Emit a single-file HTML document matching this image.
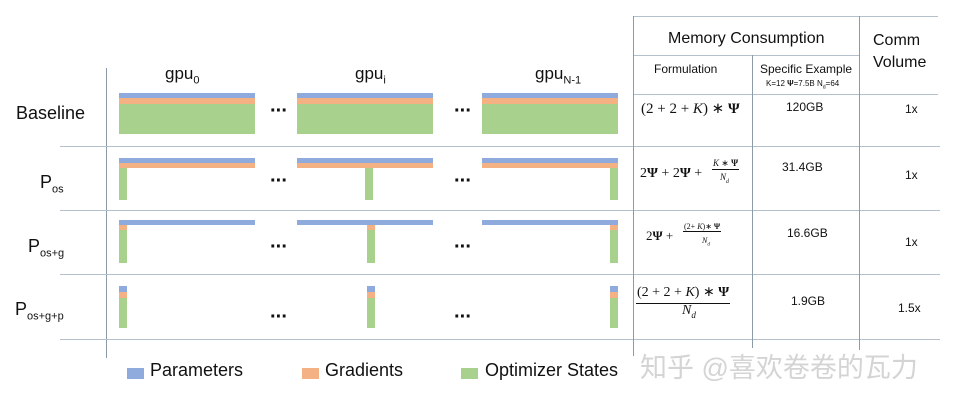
<!DOCTYPE html>
<html><head><meta charset="utf-8"><style>
body{margin:0;width:959px;height:402px;background:#fff;position:relative;overflow:hidden;font-family:"Liberation Sans","Noto Sans CJK SC",sans-serif;color:#111}
div{position:absolute}
.h{height:1px;background:#b4c0cc}
.v{width:1px;background:#8d9aa8}
.b{background:#8faadc}.o{background:#f4b183}.g{background:#a9d18e}
.t{white-space:nowrap}
.m{font-family:"Liberation Serif",serif;white-space:nowrap}
.dots{font-size:20px;font-weight:bold;letter-spacing:-1px}
sub{font-size:65%}
</style></head><body>
<div class="v" style="left:106px;top:68px;height:290px"></div>
<div class="h" style="left:60px;top:146px;width:880px"></div>
<div class="h" style="left:60px;top:210px;width:880px"></div>
<div class="h" style="left:60px;top:274px;width:880px"></div>
<div class="h" style="left:60px;top:339px;width:880px"></div>
<div class="h" style="left:633px;top:16px;width:305px"></div>
<div class="h" style="left:633px;top:55px;width:226px"></div>
<div class="h" style="left:633px;top:94px;width:305px"></div>
<div class="v" style="left:633px;top:16px;height:340px"></div>
<div class="v" style="left:752px;top:55px;height:293px"></div>
<div class="v" style="left:859px;top:16px;height:334px"></div>

<div class="t" style="left:165px;top:64px;font-size:17px">gpu<sub>0</sub></div>
<div class="t" style="left:355px;top:64px;font-size:17px">gpu<sub>i</sub></div>
<div class="t" style="left:535px;top:64px;font-size:17px">gpu<sub>N-1</sub></div>
<div class="t" style="left:16px;top:103px;font-size:18px">Baseline</div>
<div class="t" style="left:40px;top:172px;font-size:18px">P<sub style="font-size:11px">os</sub></div>
<div class="t" style="left:28px;top:236px;font-size:18px">P<sub style="font-size:11px">os+g</sub></div>
<div class="t" style="left:15px;top:299px;font-size:18px">P<sub style="font-size:11px">os+g+p</sub></div>

<div class="b" style="left:119px;top:93px;width:136px;height:5px"></div>
<div class="o" style="left:119px;top:98px;width:136px;height:6px"></div>
<div class="g" style="left:119px;top:104px;width:136px;height:30px"></div>
<div class="b" style="left:297px;top:93px;width:136px;height:5px"></div>
<div class="o" style="left:297px;top:98px;width:136px;height:6px"></div>
<div class="g" style="left:297px;top:104px;width:136px;height:30px"></div>
<div class="b" style="left:482px;top:93px;width:136px;height:5px"></div>
<div class="o" style="left:482px;top:98px;width:136px;height:6px"></div>
<div class="g" style="left:482px;top:104px;width:136px;height:30px"></div>
<div class="b" style="left:119px;top:158px;width:136px;height:5px"></div>
<div class="o" style="left:119px;top:163px;width:136px;height:5px"></div>
<div class="g" style="left:119px;top:168px;width:8px;height:32px"></div>
<div class="b" style="left:297px;top:158px;width:136px;height:5px"></div>
<div class="o" style="left:297px;top:163px;width:136px;height:5px"></div>
<div class="g" style="left:365px;top:168px;width:8px;height:32px"></div>
<div class="b" style="left:482px;top:158px;width:136px;height:5px"></div>
<div class="o" style="left:482px;top:163px;width:136px;height:5px"></div>
<div class="g" style="left:610px;top:168px;width:8px;height:32px"></div>
<div class="b" style="left:119px;top:220px;width:136px;height:5px"></div>
<div class="o" style="left:119px;top:225px;width:8px;height:5px"></div>
<div class="g" style="left:119px;top:230px;width:8px;height:33px"></div>
<div class="b" style="left:297px;top:220px;width:136px;height:5px"></div>
<div class="o" style="left:367px;top:225px;width:8px;height:5px"></div>
<div class="g" style="left:367px;top:230px;width:8px;height:33px"></div>
<div class="b" style="left:482px;top:220px;width:136px;height:5px"></div>
<div class="o" style="left:610px;top:225px;width:8px;height:5px"></div>
<div class="g" style="left:610px;top:230px;width:8px;height:33px"></div>
<div class="b" style="left:119px;top:286px;width:8px;height:6px"></div>
<div class="o" style="left:119px;top:292px;width:8px;height:6px"></div>
<div class="g" style="left:119px;top:298px;width:8px;height:30px"></div>
<div class="b" style="left:367px;top:286px;width:8px;height:6px"></div>
<div class="o" style="left:367px;top:292px;width:8px;height:6px"></div>
<div class="g" style="left:367px;top:298px;width:8px;height:30px"></div>
<div class="b" style="left:610px;top:286px;width:8px;height:6px"></div>
<div class="o" style="left:610px;top:292px;width:8px;height:6px"></div>
<div class="g" style="left:610px;top:298px;width:8px;height:30px"></div>

<div class="dots" style="left:270px;top:100px">···</div>
<div class="dots" style="left:454px;top:100px">···</div>
<div class="dots" style="left:270px;top:170px">···</div>
<div class="dots" style="left:454px;top:170px">···</div>
<div class="dots" style="left:270px;top:236px">···</div>
<div class="dots" style="left:454px;top:236px">···</div>
<div class="dots" style="left:270px;top:306px">···</div>
<div class="dots" style="left:454px;top:306px">···</div>

<div class="t" style="left:668px;top:30px;font-size:16px">Memory Consumption</div>
<div class="t" style="left:873px;top:30px;font-size:16px;line-height:22px">Comm<br>Volume</div>
<div class="t" style="left:654px;top:62px;font-size:12px">Formulation</div>
<div class="t" style="left:760px;top:62px;font-size:12px">Specific Example</div>
<div class="t" style="left:766px;top:79px;font-size:8px">K=12 <b>Ψ</b>=7.5B N<sub>d</sub>=64</div>
<div class="m" style="left:641px;top:99px;font-size:15px">(2 + 2 + <i>K</i>) ∗ <b>Ψ</b></div>
<div class="t" style="left:786px;top:100px;font-size:12px">120GB</div>
<div class="t" style="left:905px;top:102px;font-size:12px">1x</div>
<div class="m" style="left:640px;top:166px;font-size:14px">2<b>Ψ</b> + 2<b>Ψ</b> +</div>
<div class="m" style="left:712px;top:158px;font-size:9px;border-bottom:1px solid #111;padding:0 1px"><i>K</i> ∗ <b>Ψ</b></div>
<div class="m" style="left:720px;top:172px;font-size:9px"><i>N<sub>d</sub></i></div>
<div class="t" style="left:782px;top:160px;font-size:12px">31.4GB</div>
<div class="t" style="left:905px;top:168px;font-size:12px">1x</div>
<div class="m" style="left:646px;top:228px;font-size:13px">2<b>Ψ</b> +</div>
<div class="m" style="left:683px;top:222px;font-size:8px;border-bottom:1px solid #111;padding:0 1px">(2+ <i>K</i>)∗ <b>Ψ</b></div>
<div class="m" style="left:702px;top:236px;font-size:8px"><i>N<sub>d</sub></i></div>
<div class="t" style="left:787px;top:226px;font-size:12px">16.6GB</div>
<div class="t" style="left:905px;top:235px;font-size:12px">1x</div>
<div class="m" style="left:636px;top:284px;font-size:14px;border-bottom:1px solid #111;padding:0 1px 2px">(2 + 2 + <i>K</i>) ∗ <b>Ψ</b></div>
<div class="m" style="left:682px;top:303px;font-size:14px"><i>N<sub>d</sub></i></div>
<div class="t" style="left:791px;top:294px;font-size:12px">1.9GB</div>
<div class="t" style="left:898px;top:301px;font-size:12px">1.5x</div>

<div class="b" style="left:127px;top:368px;width:17px;height:11px"></div>
<div class="t" style="left:150px;top:360px;font-size:18px">Parameters</div>
<div class="o" style="left:302px;top:368px;width:17px;height:11px"></div>
<div class="t" style="left:325px;top:360px;font-size:18px">Gradients</div>
<div class="g" style="left:461px;top:368px;width:17px;height:11px"></div>
<div class="t" style="left:485px;top:360px;font-size:18px">Optimizer States</div>
<div class="t" style="left:640px;top:346px;font-size:27px;color:#d4d4d4">知乎 @喜欢卷卷的瓦力</div>
</body></html>
